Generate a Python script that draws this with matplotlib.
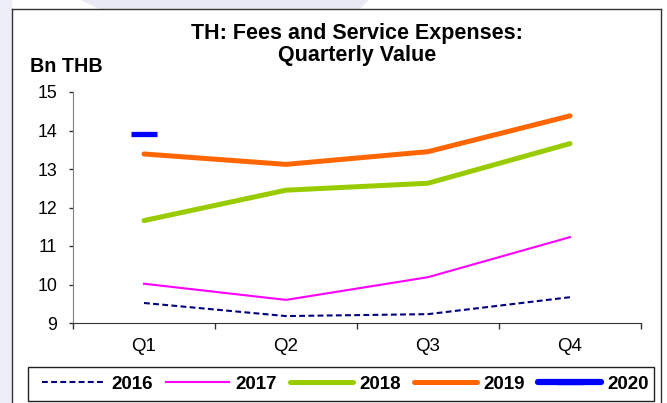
import numpy as np
import matplotlib
matplotlib.use("Agg")
from matplotlib import pyplot as plt
from matplotlib.patches import Polygon, Rectangle
from matplotlib.lines import Line2D

plt.rcParams["font.family"] = ["Liberation Sans", "DejaVu Sans"]

quarters = ["Q1", "Q2", "Q3", "Q4"]
years = ["2016", "2017", "2018", "2019", "2020"]
v2016 = [9.52, 9.18, 9.23, 9.67]
v2017 = [10.02, 9.60, 10.19, 11.23]
v2018 = [11.66, 12.45, 12.63, 13.66]
v2019 = [13.39, 13.12, 13.45, 14.38]
v2020 = [13.92]

W, H = 667, 403
fig = plt.figure(figsize=(W / 100, H / 100), dpi=100)
fig.patch.set_facecolor("white")


def fx(px):
    return px / W


def fy(py):
    return 1 - py / H


# light watermark shapes behind the chart frame
fig.patches.append(Rectangle((0, 0), fx(12), 1, transform=fig.transFigure,
                             facecolor="#eeeef8", edgecolor="none", zorder=-2))
fig.patches.append(Polygon([(fx(81), 1), (fx(369), 1), (fx(360), fy(9)), (fx(99), fy(9))],
                           closed=True, transform=fig.transFigure,
                           facecolor="#e9e9f5", edgecolor="none", zorder=-2))
# outer frame (left, top, right)
for xs, ys in [([12, 12], [403, 9]), ([12, 661], [9, 9]), ([661, 661], [9, 403])]:
    fig.lines.append(Line2D([fx(x) for x in xs], [fy(y) for y in ys],
                            transform=fig.transFigure, color="#333333", lw=1.0, zorder=-1))
# legend frame
fig.patches.append(Rectangle((fx(28), fy(401)), fx(654) - fx(28), fy(367) - fy(401),
                             transform=fig.transFigure, facecolor="none",
                             edgecolor="#222222", lw=1.0, zorder=-1))

ax = fig.add_axes([fx(73), fy(323), fx(641) - fx(73), fy(92) - fy(323)])
x = np.arange(len(quarters))

ax.plot(x, v2016, color="#000080", lw=1.5, linestyle=(0, (2.8, 1.6)), label="2016")
ax.plot(x, v2017, color="#ff00ff", lw=1.5, label="2017")
ax.plot(x, v2018, color="#99cc00", lw=3.6, solid_capstyle="round", label="2018")
ax.plot(x, v2019, color="#ff6600", lw=3.6, solid_capstyle="round", label="2019")
ax.plot(x[:len(v2020)], v2020, color="#0000ff", lw=4.5, marker="_",
        markersize=18.5, markeredgewidth=3.8, solid_capstyle="round", label="2020")

ax.set_xlim(-0.5, 3.5)
ax.set_ylim(9, 15)
ax.set_yticks(np.arange(9, 16, 1))
ax.set_xticks(x)
ax.set_xticklabels(quarters)
ax.set_xticks(np.arange(-0.5, 4, 1), minor=True)
ax.tick_params(axis="x", which="major", length=0, pad=10.5, labelsize=13.5)
ax.tick_params(axis="x", which="minor", length=4, width=1, color="#333333", direction="out")
ax.tick_params(axis="y", length=3, width=1, color="#333333", pad=8.5, labelsize=12.8)
for s in ["top", "right"]:
    ax.spines[s].set_visible(False)
ax.spines["left"].set_color("#808080")
ax.spines["bottom"].set_color("#333333")

fig.text(fx(357), fy(33), "TH: Fees and Service Expenses:", ha="center", va="center",
         fontsize=15.5, fontweight="bold")
fig.text(fx(357), fy(55), "Quarterly Value", ha="center", va="center",
         fontsize=15.5, fontweight="bold")
fig.text(fx(30), fy(66), "Bn THB", ha="left", va="center", fontsize=14.2, fontweight="bold")

leg = ax.legend(loc="center left", ncol=5, bbox_to_anchor=(fx(42), fy(384)),
                bbox_transform=fig.transFigure, frameon=False,
                handlelength=3.36, handletextpad=0.32, columnspacing=0.72,
                borderpad=0, borderaxespad=0, prop={"weight": "bold", "size": 13.5})

fig.savefig("out.png", dpi=100)
